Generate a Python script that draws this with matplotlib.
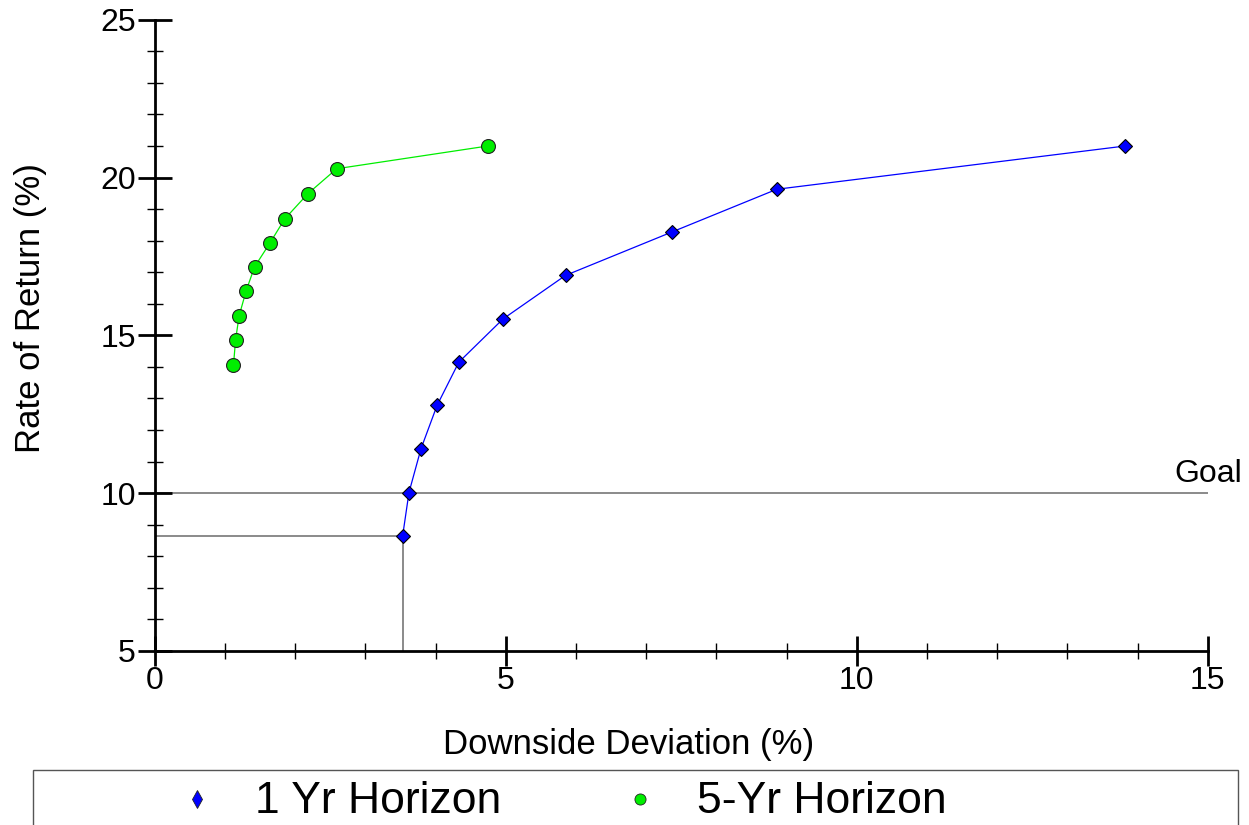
import matplotlib.pyplot as plt
from matplotlib.lines import Line2D
from matplotlib.patches import Rectangle
from matplotlib.ticker import MultipleLocator

plt.rcParams['font.family'] = ['Liberation Sans', 'DejaVu Sans']

# 1 Yr Horizon (downside deviation %, rate of return %)
dd_1yr = [3.53, 3.62, 3.79, 4.02, 4.33, 4.96, 5.85, 7.36, 8.86, 13.82]
ret_1yr = [8.65, 10.02, 11.40, 12.78, 14.15, 15.52, 16.90, 18.27, 19.63, 21.00]

# 5-Yr Horizon
dd_5yr = [1.12, 1.15, 1.20, 1.30, 1.42, 1.64, 1.85, 2.18, 2.59, 4.74]
ret_5yr = [14.07, 14.86, 15.62, 16.41, 17.17, 17.93, 18.69, 19.49, 20.28, 21.00]

goal = 10
series_labels = ['1 Yr Horizon', '5-Yr Horizon']
x_ticks = [0, 5, 10, 15]
y_ticks = [5, 10, 15, 20, 25]

fig = plt.figure(figsize=(12.49, 8.25), dpi=100)
ax = fig.add_axes([0.124, 0.211, 0.843, 0.765])

# goal line and the drop lines from the first 1-yr point
ax.plot([x_ticks[0], x_ticks[-1]], [goal, goal], color='#777777', lw=1.2, zorder=1)
ax.plot([x_ticks[0], dd_1yr[0]], [ret_1yr[0], ret_1yr[0]], color='#777777', lw=1.2, zorder=1)
ax.plot([dd_1yr[0], dd_1yr[0]], [y_ticks[0], ret_1yr[0]], color='#777777', lw=1.2, zorder=1)
ax.text(14.53, goal + 0.12, 'Goal', fontsize=23, ha='left', va='bottom', clip_on=False)

ax.plot(dd_1yr, ret_1yr, color='#0000ff', lw=0.9, marker='D', ms=7.5,
        mfc='#0000ff', mec='black', mew=0.8, zorder=3, clip_on=False)
ax.plot(dd_5yr, ret_5yr, color='#00ee00', lw=0.9, marker='o', ms=10,
        mfc='#00ee00', mec='#222222', mew=0.8, zorder=3, clip_on=False)

ax.set_xlim(x_ticks[0], x_ticks[-1])
ax.set_ylim(y_ticks[0], y_ticks[-1])
ax.set_xticks(x_ticks)
ax.set_yticks(y_ticks)
ax.xaxis.set_minor_locator(MultipleLocator(1))
ax.yaxis.set_minor_locator(MultipleLocator(1))

for side in ['top', 'right']:
    ax.spines[side].set_visible(False)
for side in ['left', 'bottom']:
    ax.spines[side].set_linewidth(2)

ax.tick_params(axis='x', which='major', direction='inout', length=21, width=2,
               labelsize=23, pad=0)
ax.tick_params(axis='y', which='major', direction='inout', length=24.5, width=2,
               labelsize=23, pad=1.5)
ax.tick_params(which='minor', direction='inout', length=11.5, width=1)

ax.set_xlabel('Downside Deviation (%)', fontsize=25)
ax.set_ylabel('Rate of Return (%)', fontsize=25)
ax.xaxis.set_label_coords(0.450, -0.122)
ax.yaxis.set_label_coords(-0.1026, 0.5436)

# legend box along the bottom edge
fig.add_artist(Rectangle((33 / 1249, -0.05), (1238 - 33) / 1249, 0.05 + 1 - 770 / 825,
                         transform=fig.transFigure, fill=False, edgecolor='#555555', lw=1))
legend_marks = [('d', '#0000ff', 9, 197 / 1249, 255 / 1249),
                ('o', '#00ee00', 8, 640 / 1249, 697 / 1249)]
for label, (mk, col, ms, mx, tx) in zip(series_labels, legend_marks):
    fig.add_artist(Line2D([mx], [1 - 799 / 825], transform=fig.transFigure, ls='none',
                          marker=mk, ms=ms, mfc=col, mec='#222222', mew=0.6))
    fig.text(tx, 1 - 813 / 825, label, fontsize=32, ha='left', va='baseline')

fig.savefig('out.png', dpi=100)
